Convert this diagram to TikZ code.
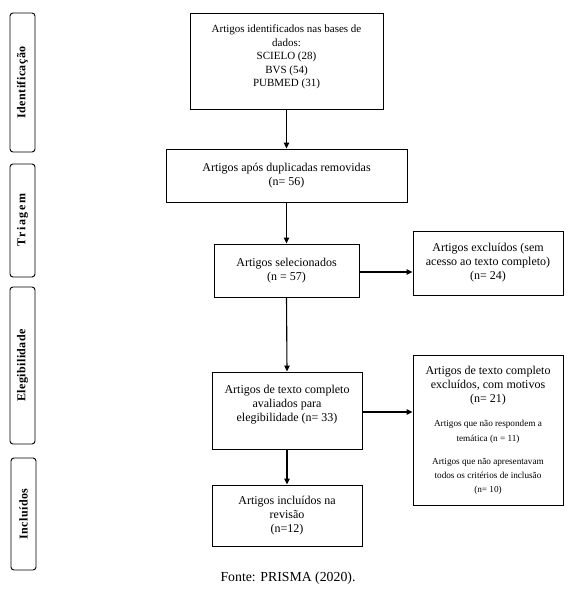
\documentclass[tikz,border=0pt]{standalone}
\usepackage{fontspec}
\setmainfont{Liberation Serif}
\usetikzlibrary{arrows.meta}
\newcommand{\onef}{\fontsize{11}{13.5}\selectfont}
\newcommand{\mainf}{\fontsize{12}{14}\selectfont}
\newcommand{\smf}{\fontsize{9.2}{13.5}\selectfont}
\newcommand{\ks}{\kern0.45pt}
\newcommand{\kt}{\kern1.5pt}
\tikzset{
  boxx/.style={draw, line width=0.9pt, inner sep=0pt, align=center, font=\mainf},
  side/.style={draw, line width=0.9pt, rounded corners=3pt, inner sep=0pt},
  sidelabel/.style={rotate=90, font=\fontsize{12}{14}\selectfont\bfseries},
  arr/.style={line width=1.1pt, -{Triangle[length=6pt,width=5.5pt]}},
}
\begin{document}
\begin{tikzpicture}[x=1pt,y=-1pt]
\useasboundingbox (0,0) rectangle (585,601);
% side boxes
\node[side, minimum width=25pt, minimum height=139pt] (s1) at (22.5,82.5) {};
\node[sidelabel] (s1t) at (s1.center) {I\ks d\ks e\ks n\ks t\ks i\ks f\ks i\ks c\ks a\ks ç\ks ã\ks o};
\node[side, minimum width=25pt, minimum height=113pt] (s2) at (22.5,220.5) {};
\node[sidelabel] (s2t) at (s2.center) {T\kt r\kt i\kt a\kt g\kt e\kt m};
\node[side, minimum width=25pt, minimum height=157pt] (s3) at (22.5,365.5) {};
\node[sidelabel] (s3t) at (s3.center) {E\ks l\ks e\ks g\ks i\ks b\ks i\ks l\ks i\ks d\ks a\ks d\ks e};
\node[side, minimum width=25pt, minimum height=112pt] (s4) at (23.5,514) {};
\node[sidelabel] (s4t) at (s4.center) {I\ks n\ks c\ks l\ks u\ks í\ks d\ks o\ks s};
% main boxes
\node[boxx, font=\onef, minimum width=193pt, minimum height=96pt] (b1) at (286.5,61)
  {Artigos identificados nas bases de\\ dados:\\ SCIELO (28)\\ BVS (54)\\ PUBMED (31)\\[-3pt]\mbox{}};
\node[boxx, minimum width=241pt, minimum height=53pt] (b2) at (286.5,175.5)
  {Artigos após duplicadas removidas\\ (n= 56)};
\node[boxx, minimum width=145pt, minimum height=53pt] (b3) at (286.5,270.5)
  {Artigos selecionados\\ (n = 57)};
\node[boxx, minimum width=150pt, minimum height=64pt] (e1) at (488,263)
  {Artigos excluídos (sem\\ acesso ao texto completo)\\ (n= 24)};
\node[boxx, minimum width=150pt, minimum height=77pt] (b4) at (287,410.5)
  {Artigos de texto completo\\ avaliados para\\ elegibilidade (n= 33)\\ \mbox{}};
\node[boxx, minimum width=150pt, minimum height=150pt] (e2) at (488,430)
  {Artigos de texto completo\\ excluídos, com motivos\\ (n= 21)\\[10pt]
   \smf Artigos que não respondem a\\[1pt] \smf temática (n = 11)\\[9pt]
   \smf Artigos que não apresentavam\\ \smf todos os critérios de inclusão\\ \smf (n= 10)};
\node[boxx, minimum width=150pt, minimum height=61pt] (b5) at (287,515.5)
  {Artigos incluídos na\\ revisão\\ (n=12)};
% caption
\node[font=\fontsize{13.8}{16}\selectfont] (cap) at (288,578) {Fonte: PRISMA (2020).};
% arrows
\draw[arr] (b1.south) -- (b2.north);
\draw[arr] (b2.south) -- (b3.north);
\draw[arr] (b3.south) -- (b4.north);
\draw[arr] (b4.south) -- (b5.north);
\draw[arr] ([yshift=-1.5pt]b3.east) -- ([yshift=-1.5pt]b3.east -| e1.west);
\draw[arr] ([yshift=-1.5pt]b4.east) -- ([yshift=-1.5pt]b4.east -| e2.west);
\end{tikzpicture}
\end{document}
